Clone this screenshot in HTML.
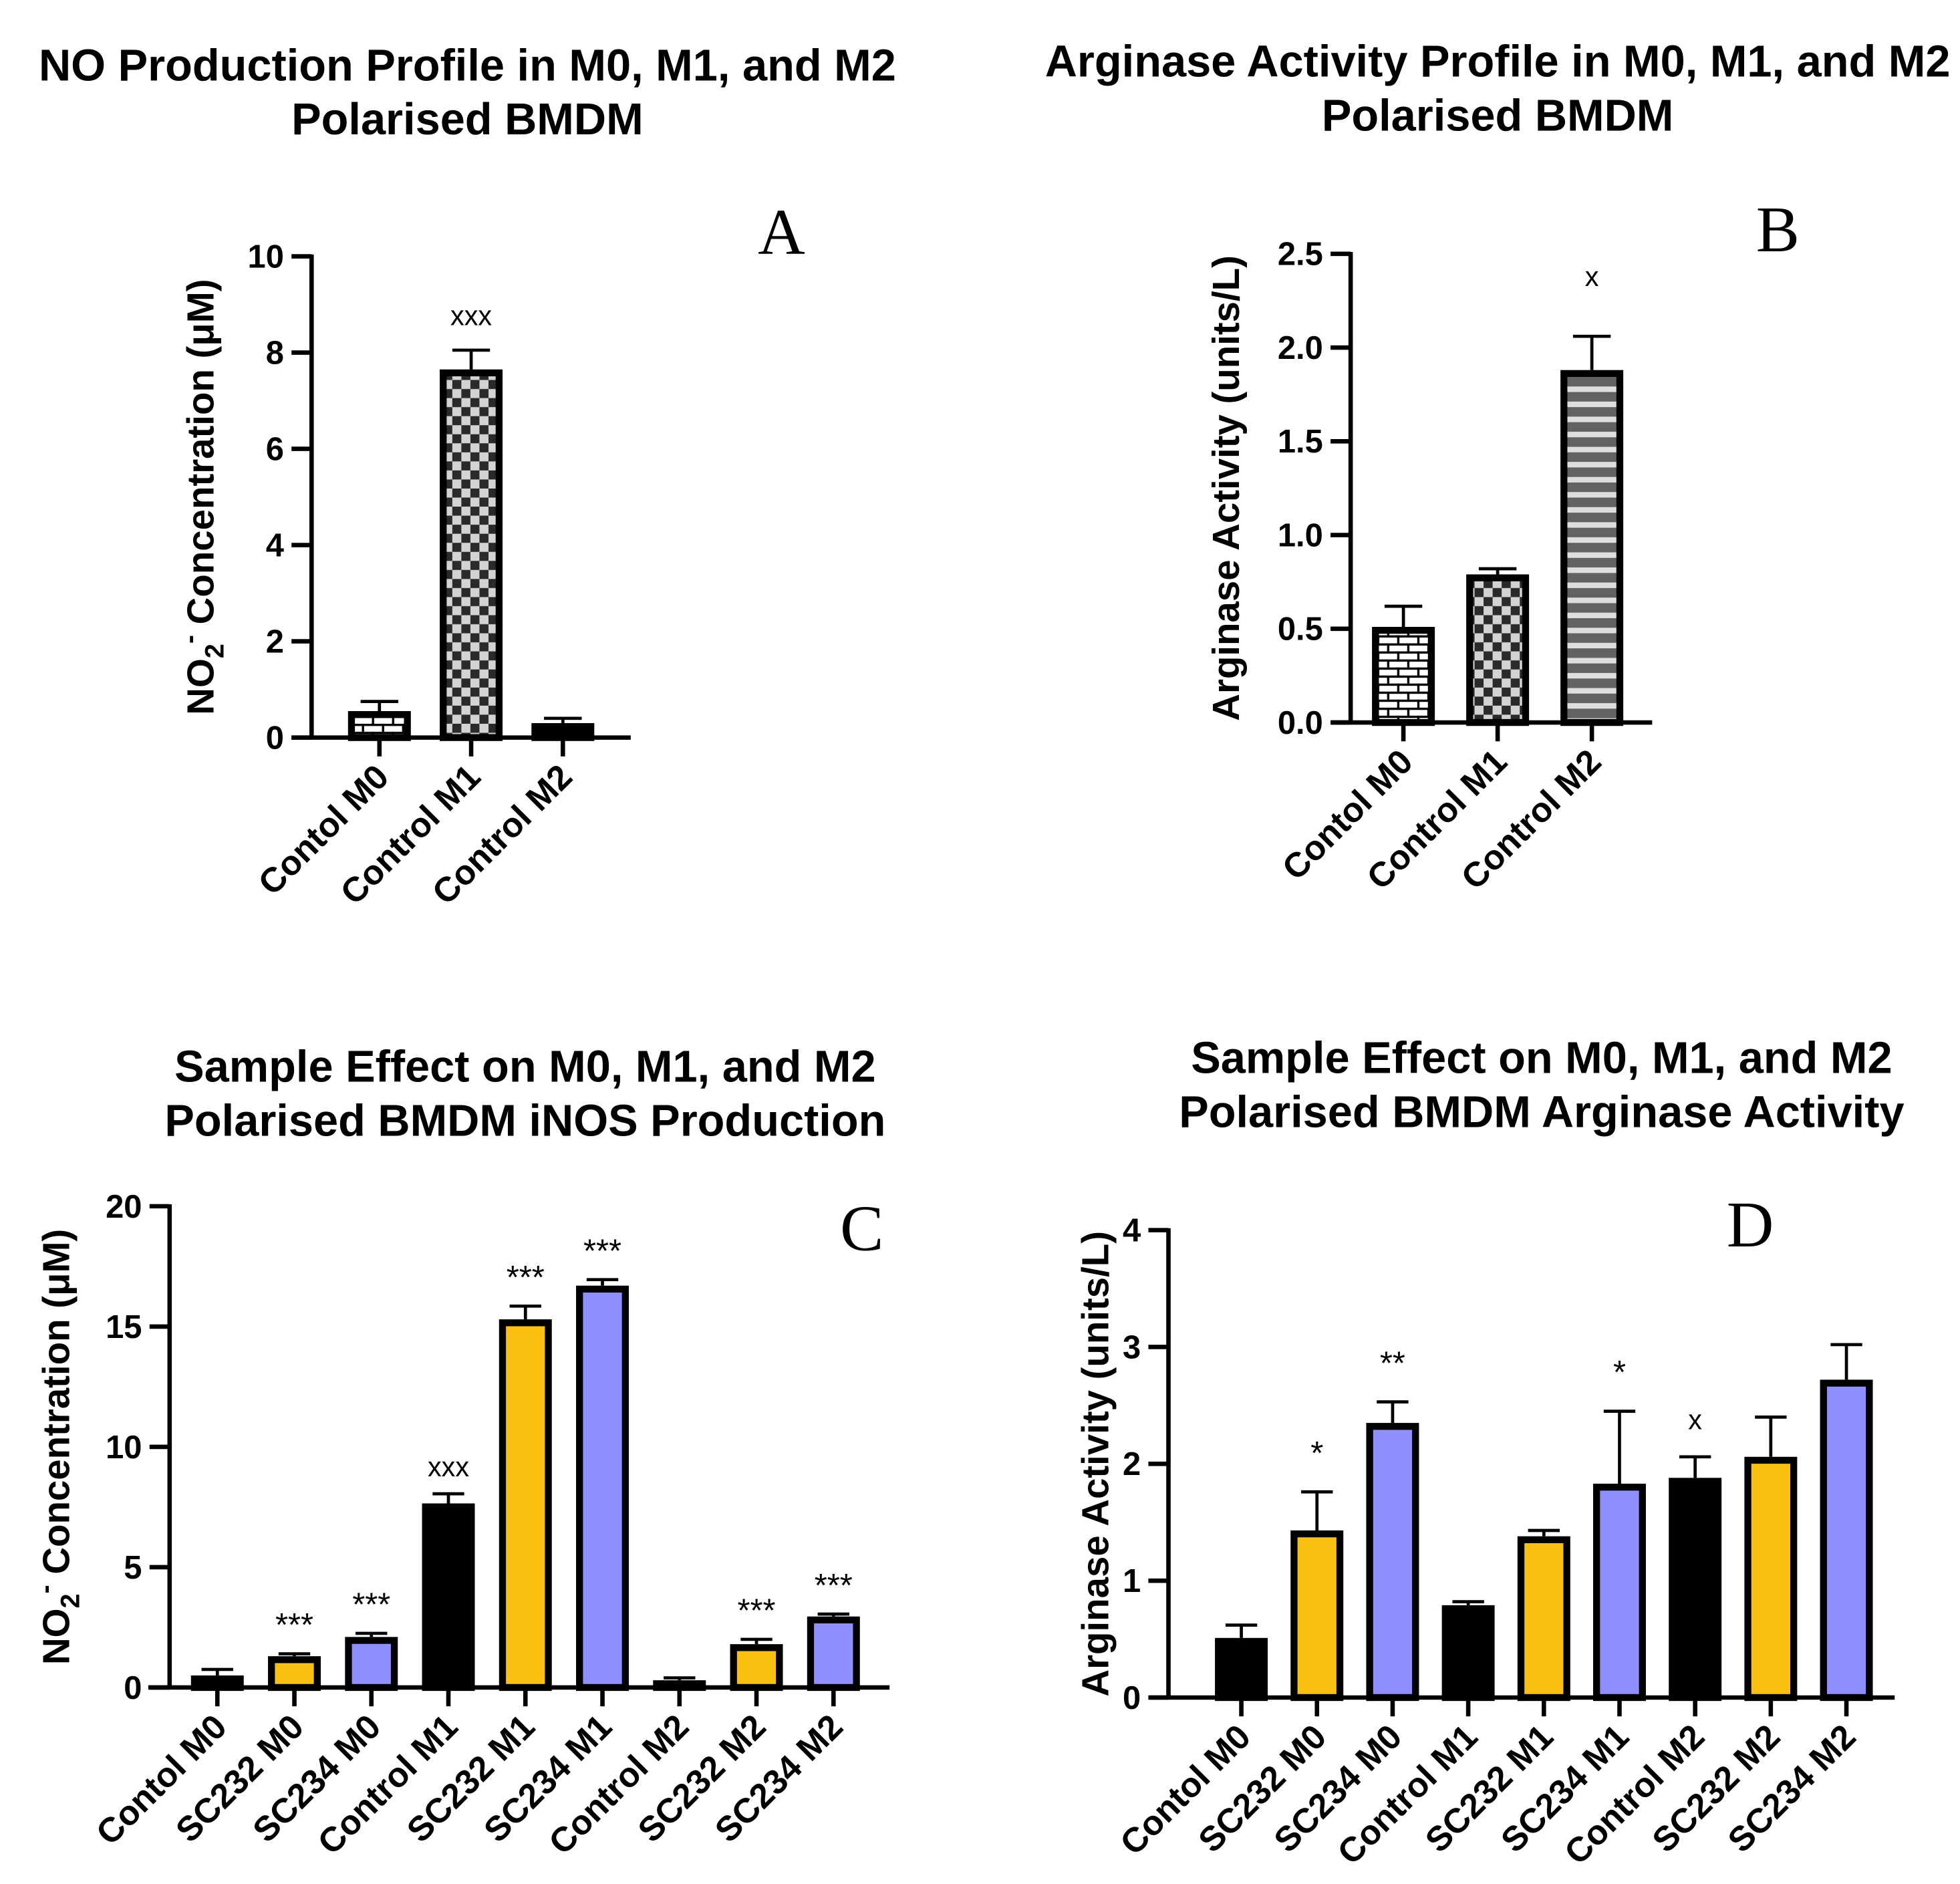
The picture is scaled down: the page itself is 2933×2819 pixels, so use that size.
<!DOCTYPE html>
<html><head><meta charset="utf-8"><style>
html,body{margin:0;padding:0;background:#fff}
svg{display:block}
</style></head><body>
<svg id="fig" xmlns="http://www.w3.org/2000/svg" width="2933" height="2819" viewBox="0 0 1560 1499.4" preserveAspectRatio="none" font-family="Liberation Sans, Arial, sans-serif">
<defs>
<pattern id="brick" patternUnits="userSpaceOnUse" width="16" height="12.8" x="0" y="0">
<rect width="16" height="12.8" fill="#fff"/>
<rect y="0" width="16" height="1.8" fill="#000"/>
<rect y="6.4" width="16" height="1.8" fill="#000"/>
<rect x="0" y="0" width="1.8" height="6.4" fill="#000"/>
<rect x="8" y="6.4" width="1.8" height="6.4" fill="#000"/>
</pattern>
<pattern id="checker" patternUnits="userSpaceOnUse" width="14.4" height="14.4">
<rect width="14.4" height="14.4" fill="#d3d3d3"/>
<rect width="7.2" height="7.2" fill="#2a2a2a"/>
<rect x="7.2" y="7.2" width="7.2" height="7.2" fill="#2a2a2a"/>
</pattern>
<pattern id="stripes" patternUnits="userSpaceOnUse" width="10" height="12">
<rect width="10" height="12" fill="#626262"/>
<rect y="7.6" width="10" height="4.4" fill="#dedede"/>
</pattern>
</defs>
<g id="root"></g>
</svg>
<script>
const NS="http://www.w3.org/2000/svg";
// Panel A
const catsA=["Contol M0","Control M1","Control M2"];
const valsA=[0.55,7.65,0.3];
const errA=[0.75,8.05,0.4];
const annA=["","xxx",""];
const ticksA=["0","2","4","6","8","10"];
// Panel B
const catsB=["Contol M0","Control M1","Control M2"];
const valsB=[0.51,0.79,1.88];
const errB=[0.62,0.82,2.06];
const annB=["","","x"];
const ticksB=["0.0","0.5","1.0","1.5","2.0","2.5"];
// Panel C
const catsC=["Contol M0","SC232 M0","SC234 M0","Control M1","SC232 M1","SC234 M1","Control M2","SC232 M2","SC234 M2"];
const valsC=[0.5,1.3,2.1,7.65,15.3,16.7,0.3,1.8,2.95];
const errC=[0.75,1.4,2.25,8.05,15.85,16.95,0.4,2.0,3.05];
const annC=["","***","***","xxx","***","***","","***","***"];
const ticksC=["0","5","10","15","20"];
// Panel D
const catsD=catsC.slice();
const valsD=[0.51,1.43,2.35,0.79,1.38,1.83,1.88,2.06,2.72];
const errD=[0.62,1.76,2.53,0.82,1.43,2.45,2.06,2.4,3.02];
const annD=["","*","**","","","*","x","",""];
const ticksD=["0","1","2","3","4"];

const root=document.getElementById('root');
function mk(tag,attrs,parent){const e=document.createElementNS(NS,tag);for(const k in attrs)e.setAttribute(k,attrs[k]);(parent||root).appendChild(e);return e;}

const GOLD="#f9c00f",PURP="#8f8fff";
function drawPanel(p){
  const g=mk('g',{});
  
  
  const ymax=parseFloat(p.ticks[p.ticks.length-1]);
  const ys=v=>p.y0-(v/ymax)*(p.y0-p.yTop);
  const xs=i=>p.x0+i*p.step;
  p.title.forEach((t,k)=>{const e=mk('text',{x:p.tx,y:p.ty+k*43,'text-anchor':'middle','font-size':35.5,'font-weight':'bold'},g);e.textContent=t;
    
    });
  const L=mk('text',{x:p.lx,y:p.ly,'text-anchor':'middle','font-family':'Liberation Serif, serif','font-size':52},g);L.textContent=p.letter;
  
  
  p.vals.forEach((v,i)=>{
    const cx=xs(i),top=ys(v),bw=p.bw;
    const eb=mk('g',{},g);
    
    
    mk('line',{x1:cx,x2:cx,y1:top,y2:ys(p.err[i]),stroke:'#000','stroke-width':2.5},eb);
    mk('line',{x1:cx-bw*0.3,x2:cx+bw*0.3,y1:ys(p.err[i]),y2:ys(p.err[i]),stroke:'#000','stroke-width':2.5},eb);
    const r=mk('rect',{x:cx-bw/2+2.75,y:top+2.75,width:bw-5.5,height:Math.max(0,p.y0-top-2.75),fill:p.fills[i],stroke:'#000','stroke-width':5.5},g);
    
    
    if(p.ann[i]){const a=mk('text',{x:cx,y:ys(p.err[i])-p.annOff,'text-anchor':'middle','font-size':p.ann[i].indexOf('*')>=0?26:22},g);a.textContent=p.ann[i];
      
      }
    mk('line',{x1:cx,x2:cx,y1:p.y0,y2:p.y0+15,stroke:'#000','stroke-width':3.5},g);
    const t=mk('text',{x:0,y:0,'text-anchor':'end','font-size':27.5,'font-weight':'bold',transform:`translate(${cx+9},${p.y0+33}) rotate(-45)`},g);t.textContent=p.cats[i];
    
    
  });
  const ax=mk('line',{x1:p.xl,x2:p.xr,y1:p.y0,y2:p.y0,stroke:'#000','stroke-width':3.5},g);
  
  
  const ay=mk('line',{x1:p.ax,x2:p.ax,y1:p.yTop-1.5,y2:p.y0,stroke:'#000','stroke-width':3.5},g);
  
  
  p.ticks.forEach(tk=>{const y=ys(parseFloat(tk));
    mk('line',{x1:p.ax-16,x2:p.ax,y1:y,y2:y,stroke:'#000','stroke-width':3.5},g);
    const t=mk('text',{x:p.ax-22,y:y+9,'text-anchor':'end','font-size':26,'font-weight':'bold'},g);t.textContent=tk;
    
    });
  const yl=mk('text',{x:0,y:0,'text-anchor':'middle','font-size':30,'font-weight':'bold',transform:`translate(${p.ylx},${(p.yTop+p.y0)/2}) rotate(-90)`},g);
  
  
  if(p.no2){yl.innerHTML='NO<tspan font-size="21" dy="8">2</tspan><tspan font-size="21" dy="-20">-</tspan><tspan dy="12"> Concentration (\u03bcM)</tspan>';}
  else yl.textContent=p.ylabel;
}
drawPanel({name:'panel-a',title:['NO Production Profile in M0, M1, and M2','Polarised BMDM'],tx:372,ty:64,letter:'A',lx:622,ly:202,
  cats:catsA,vals:valsA,err:errA,ann:annA,ticks:ticksA,fills:['url(#brick)','url(#checker)','#000'],
  x0:302,step:73,bw:50,y0:587,yTop:204,ax:248,xl:232,xr:502,ylx:170,no2:true,annOff:20});
drawPanel({name:'panel-b',title:['Arginase Activity Profile in M0, M1, and M2','Polarised BMDM'],tx:1192,ty:61,letter:'B',lx:1415,ly:200,
  cats:catsB,vals:valsB,err:errB,ann:annB,ticks:ticksB,fills:['url(#brick)','url(#checker)','url(#stripes)'],
  x0:1117,step:75,bw:50,y0:575,yTop:202,ax:1075,xl:1060,xr:1315,ylx:986,ylabel:'Arginase Activity (units/L)',annOff:40});
drawPanel({name:'panel-c',title:['Sample Effect on M0, M1, and M2','Polarised BMDM iNOS Production'],tx:418,ty:861,letter:'C',lx:686,ly:995,
  cats:catsC,vals:valsC,err:errC,ann:annC,ticks:ticksC,fills:['#000',GOLD,PURP,'#000',GOLD,PURP,'#000',GOLD,PURP],
  x0:173,step:61.3,bw:42,y0:1343,yTop:960,ax:135,xl:118,xr:708,ylx:55,no2:true,annOff:14});
drawPanel({name:'panel-d',title:['Sample Effect on M0, M1, and M2','Polarised BMDM Arginase Activity'],tx:1227,ty:854,letter:'D',lx:1393,ly:992,
  cats:catsD,vals:valsD,err:errD,ann:annD,ticks:ticksD,fills:['#000',GOLD,PURP,'#000',GOLD,PURP,'#000',GOLD,PURP],
  x0:988,step:60.2,bw:42,y0:1351,yTop:979,ax:930,xl:915,xr:1508,ylx:882,ylabel:'Arginase Activity (units/L)',annOff:22});
</script>
</body></html>
